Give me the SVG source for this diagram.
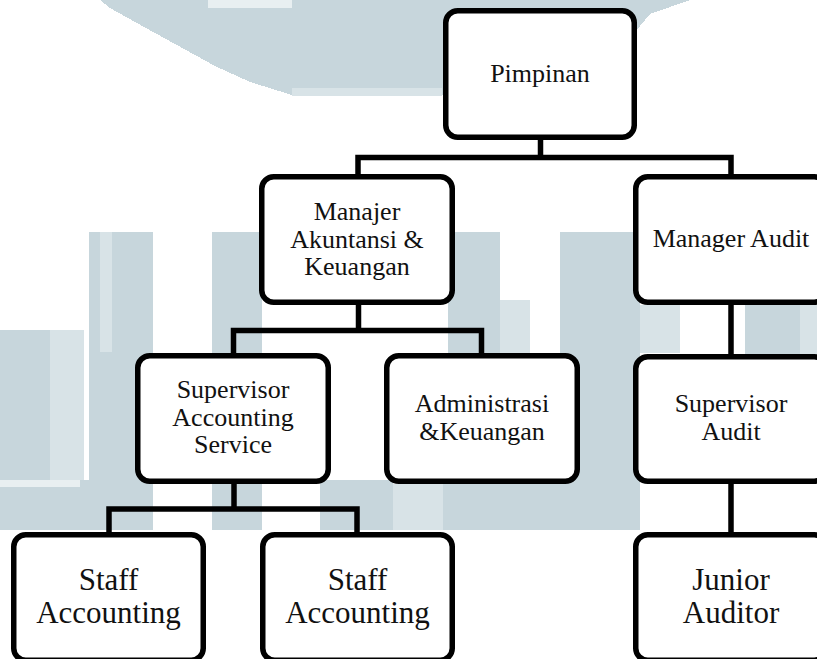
<svg xmlns="http://www.w3.org/2000/svg" width="817" height="659" viewBox="0 0 817 659">
  <style>
    .wm { fill: #c7d6dc; }
    .wm-soft { fill: #d8e3e7; }
    .wm-light { fill: #e8eff1; }
    .box { fill: #ffffff; stroke: #000000; stroke-width: 5.5; }
    .link { fill: none; stroke: #000000; stroke-width: 5.5; stroke-linejoin: miter; stroke-linecap: butt; }
    .label { font-family: "Liberation Serif", "Times New Roman", serif; font-size: 26px; fill: #111111; text-anchor: middle; }
    .label-lg { font-size: 31px; }
  </style>

  <rect x="0" y="0" width="817" height="659" fill="#ffffff"/>

  <!-- faded background emblem, drawn as coarse blocks -->
  <g id="watermark" shape-rendering="crispEdges">
    <path class="wm" d="M100 0 H690 L650 14 L620 50 L590 80 L560 95 H292 L250 82 L215 66 L155 33 L110 8 Z"/>
    <rect class="wm-soft" x="292" y="88" width="150" height="8"/>
    <rect class="wm-light" x="208" y="0" width="84" height="8"/>
    <rect class="wm" x="89" y="232" width="64" height="298"/>
    <rect class="wm-soft" x="100" y="232" width="12" height="120"/>
    <rect class="wm" x="212" y="232" width="50" height="298"/>
    <rect class="wm" x="448" y="232" width="52" height="122"/>
    <rect class="wm-soft" x="500" y="300" width="30" height="54"/>
    <rect class="wm" x="560" y="232" width="80" height="298"/>
    <rect class="wm-soft" x="640" y="305" width="40" height="48"/>
    <rect class="wm" x="745" y="300" width="72" height="180"/>
    <rect class="wm-soft" x="800" y="300" width="17" height="54"/>
    <rect class="wm" x="0" y="330" width="50" height="200"/>
    <rect class="wm-soft" x="50" y="330" width="34" height="150"/>
    <rect class="wm" x="0" y="480" width="137" height="50"/>
    <rect class="wm-light" x="0" y="480" width="80" height="7"/>
    <rect class="wm" x="320" y="480" width="73" height="50"/>
    <rect class="wm-soft" x="393" y="484" width="50" height="46"/>
    <rect class="wm" x="443" y="480" width="170" height="50"/>
  </g>

  <!-- connectors -->
  <g id="connectors">
    <path class="link" d="M540.5 138 V157.5"/>
    <path class="link" d="M358 176 V157.5 H731 V176"/>
    <path class="link" d="M358.5 303 V330.5"/>
    <path class="link" d="M233.5 355 V330.5 H481.5 V355"/>
    <path class="link" d="M731 303 V356"/>
    <path class="link" d="M234 482 V509"/>
    <path class="link" d="M109 534 V509 H357 V534"/>
    <path class="link" d="M731 482 V534"/>
  </g>

  <g id="pimpinan">
    <rect class="box" x="445.75" y="10.75" width="188.5" height="126.5" rx="12"/>
    <text class="label" x="540" y="82">Pimpinan</text>
  </g>

  <g id="manajer-akuntansi">
    <rect class="box" x="261.75" y="176.75" width="190.5" height="125.5" rx="12"/>
    <text class="label" x="357" y="220">Manajer</text>
    <text class="label" x="357" y="248">Akuntansi &amp;</text>
    <text class="label" x="357" y="275">Keuangan</text>
  </g>

  <g id="manager-audit">
    <rect class="box" x="635.75" y="176.75" width="190.5" height="125.5" rx="12"/>
    <text class="label" x="731" y="247">Manager Audit</text>
  </g>

  <g id="supervisor-accounting">
    <rect class="box" x="137.75" y="355.75" width="190.5" height="125.5" rx="12"/>
    <text class="label" x="233" y="398">Supervisor</text>
    <text class="label" x="233" y="426">Accounting</text>
    <text class="label" x="233" y="453">Service</text>
  </g>

  <g id="administrasi">
    <rect class="box" x="386.75" y="355.75" width="190.5" height="125.5" rx="12"/>
    <text class="label" x="482" y="412">Administrasi</text>
    <text class="label" x="482" y="440">&amp;Keuangan</text>
  </g>

  <g id="supervisor-audit">
    <rect class="box" x="635.75" y="356.75" width="190.5" height="124.5" rx="12"/>
    <text class="label" x="731" y="412">Supervisor</text>
    <text class="label" x="731" y="440">Audit</text>
  </g>

  <g id="staff-accounting-1">
    <rect class="box" x="13.75" y="534.75" width="189.5" height="125.5" rx="12"/>
    <text class="label label-lg" x="108.5" y="590">Staff</text>
    <text class="label label-lg" x="108.5" y="623">Accounting</text>
  </g>

  <g id="staff-accounting-2">
    <rect class="box" x="262.75" y="534.75" width="189.5" height="125.5" rx="12"/>
    <text class="label label-lg" x="357.5" y="590">Staff</text>
    <text class="label label-lg" x="357.5" y="623">Accounting</text>
  </g>

  <g id="junior-auditor">
    <rect class="box" x="635.75" y="534.75" width="190.5" height="125.5" rx="12"/>
    <text class="label label-lg" x="731" y="590">Junior</text>
    <text class="label label-lg" x="731" y="623">Auditor</text>
  </g>
</svg>
